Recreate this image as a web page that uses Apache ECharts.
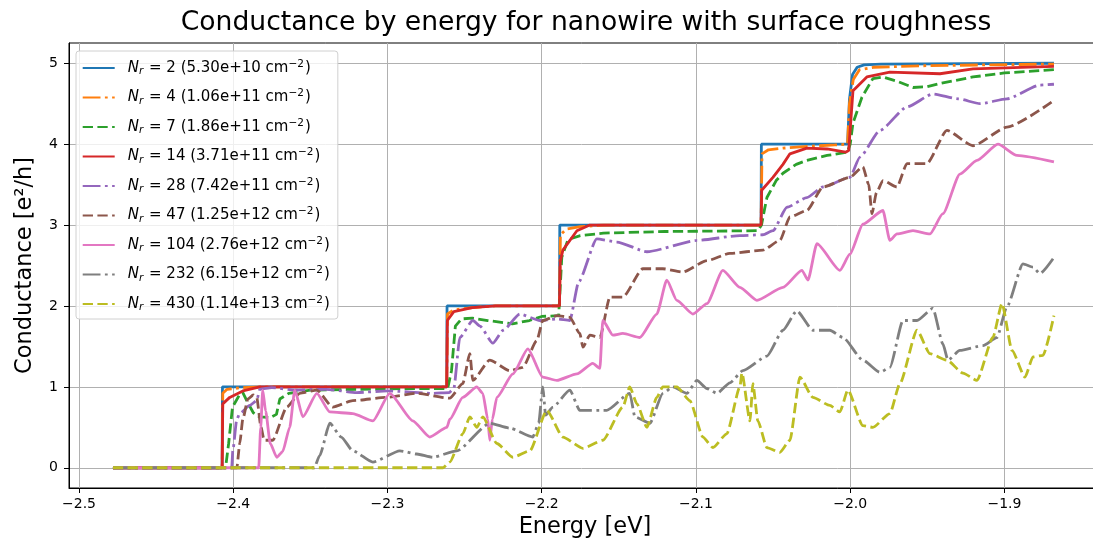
<!DOCTYPE html>
<html>
<head>
<meta charset="utf-8">
<title>Conductance by energy</title>
<script src="https://cdn.jsdelivr.net/npm/echarts@6/dist/echarts.min.js"></script>
<style>
html, body { margin: 0; padding: 0; background: #fff; }
#chart { width: 1093px; height: 541px; }
</style>
</head>
<body>
<div id="chart"></div>
<script>
const xTicks = [-2.5, -2.4, -2.3, -2.2, -2.1, -2.0, -1.9]
const yTicks = [0, 1, 2, 3, 4, 5]
const nrValues = [2, 4, 7, 14, 28, 47, 104, 232, 430]
const densities = ['5.30e+10', '1.06e+11', '1.86e+11', '3.71e+11', '7.42e+11', '1.25e+12', '2.76e+12', '6.15e+12', '1.14e+13']

// [energy (eV), conductance (e^2/h)]
const nr2 = [[-2.478, 0], [-2.4072, 0], [-2.407, 1], [-2.2616, 1], [-2.2614, 2], [-2.1885, 2], [-2.1883, 3], [-2.0578, 3], [-2.0576, 4], [-2.0017, 4], [-2.0005, 4.55], [-1.9985, 4.86], [-1.9955, 4.95], [-1.991, 4.98], [-1.98, 4.99], [-1.8679, 5]]
const nr4 = [[-2.478, 0], [-2.4072, 0], [-2.4068, 0.92], [-2.404, 0.97], [-2.395, 0.99], [-2.38, 1.0], [-2.2616, 1.0], [-2.2611, 1.9], [-2.257, 1.95], [-2.245, 1.98], [-2.23, 2.0], [-2.1885, 2.0], [-2.1879, 2.88], [-2.184, 2.95], [-2.175, 2.98], [-2.16, 3.0], [-2.0578, 3.0], [-2.0572, 3.88], [-2.053, 3.93], [-2.0436, 3.95], [-2.03, 3.97], [-2.01, 3.99], [-2.0017, 4.0], [-2.0005, 4.5], [-1.998, 4.8], [-1.994, 4.92], [-1.985, 4.95], [-1.95, 4.97], [-1.8679, 4.99]]
const nr7 = [[-2.478, 0], [-2.405, 0], [-2.403, 0.3], [-2.4005, 0.75], [-2.396, 0.9], [-2.3938, 0.93], [-2.3905, 0.8], [-2.387, 0.68], [-2.383, 0.63], [-2.376, 0.62], [-2.372, 0.66], [-2.3698, 0.85], [-2.364, 0.92], [-2.35, 0.96], [-2.32, 0.97], [-2.28, 0.98], [-2.261, 0.98], [-2.2585, 1.2], [-2.256, 1.75], [-2.252, 1.84], [-2.245, 1.85], [-2.235, 1.82], [-2.219, 1.78], [-2.208, 1.82], [-2.2, 1.87], [-2.189, 1.88], [-2.187, 2.6], [-2.183, 2.82], [-2.175, 2.87], [-2.16, 2.9], [-2.12, 2.92], [-2.06, 2.93], [-2.0575, 3.0], [-2.0555, 3.2], [-2.054, 3.34], [-2.048, 3.55], [-2.0436, 3.64], [-2.035, 3.75], [-2.0281, 3.8], [-2.015, 3.86], [-2.002, 3.9], [-2.0, 4.0], [-1.9982, 4.26], [-1.9924, 4.58], [-1.9853, 4.81], [-1.9788, 4.83], [-1.97, 4.78], [-1.9593, 4.7], [-1.95, 4.71], [-1.9418, 4.75], [-1.9204, 4.83], [-1.9, 4.88], [-1.8679, 4.92]]
const nr14 = [[-2.478, 0], [-2.4072, 0], [-2.4068, 0.79], [-2.4023, 0.87], [-2.3938, 0.95], [-2.3828, 1.0], [-2.2616, 1.0], [-2.2612, 1.82], [-2.257, 1.93], [-2.245, 1.98], [-2.23, 2.0], [-2.1885, 2.0], [-2.188, 2.55], [-2.1863, 2.69], [-2.1772, 2.93], [-2.1688, 3.0], [-2.0578, 3.0], [-2.0574, 3.43], [-2.0501, 3.59], [-2.0436, 3.75], [-2.0391, 3.88], [-2.0281, 3.95], [-2.015, 3.94], [-2.003, 3.9], [-2.001, 3.92], [-1.9982, 4.66], [-1.9892, 4.83], [-1.9743, 4.89], [-1.9418, 4.87], [-1.9204, 4.93], [-1.8679, 4.96]]
const nr28 = [[-2.478, 0], [-2.401, 0], [-2.4003, 0.21], [-2.3977, 0.6], [-2.3958, 0.67], [-2.3893, 0.77], [-2.3848, 0.83], [-2.3828, 0.97], [-2.375, 0.99], [-2.3601, 0.96], [-2.34, 0.97], [-2.32, 0.93], [-2.3, 0.95], [-2.2706, 0.92], [-2.26, 0.93], [-2.257, 0.98], [-2.2531, 1.61], [-2.2447, 1.82], [-2.24, 1.75], [-2.2317, 1.54], [-2.225, 1.7], [-2.2142, 1.9], [-2.2012, 1.82], [-2.19, 1.84], [-2.1818, 1.82], [-2.176, 2.3], [-2.1643, 2.83], [-2.1513, 2.79], [-2.1318, 2.67], [-2.0994, 2.81], [-2.0715, 2.87], [-2.0566, 2.88], [-2.0501, 2.93], [-2.041, 3.22], [-2.0281, 3.34], [-2.0177, 3.47], [-2.0002, 3.59], [-1.9937, 3.84], [-1.9807, 4.17], [-1.9632, 4.46], [-1.9464, 4.62], [-1.93, 4.56], [-1.9159, 4.5], [-1.8984, 4.56], [-1.877, 4.73], [-1.8679, 4.74]]
const nr47 = [[-2.478, 0], [-2.3977, 0], [-2.3958, 0.3], [-2.3938, 0.6], [-2.3905, 0.85], [-2.387, 0.9], [-2.3848, 0.87], [-2.382, 0.5], [-2.38, 0.34], [-2.3744, 0.34], [-2.3653, 0.75], [-2.3569, 0.92], [-2.3458, 0.96], [-2.3355, 0.75], [-2.3225, 0.83], [-2.3004, 0.87], [-2.281, 0.92], [-2.2596, 0.86], [-2.2512, 1.04], [-2.2466, 1.41], [-2.2447, 1.08], [-2.2337, 1.33], [-2.2207, 1.2], [-2.2123, 1.24], [-2.2032, 1.57], [-2.1993, 1.82], [-2.1902, 1.88], [-2.1818, 1.86], [-2.1753, 1.66], [-2.1733, 1.49], [-2.1688, 1.64], [-2.1623, 1.61], [-2.1558, 2.11], [-2.1474, 2.11], [-2.1344, 2.46], [-2.1215, 2.46], [-2.1085, 2.42], [-2.0929, 2.56], [-2.078, 2.65], [-2.0566, 2.69], [-2.0456, 2.81], [-2.0391, 3.1], [-2.0281, 3.18], [-2.0177, 3.47], [-2.0002, 3.59], [-1.9918, 3.72], [-1.988, 3.5], [-1.9859, 3.14], [-1.983, 3.4], [-1.9788, 3.55], [-1.9697, 3.47], [-1.9632, 3.76], [-1.9503, 3.76], [-1.9373, 4.17], [-1.9204, 3.98], [-1.8984, 4.21], [-1.8679, 4.54]]
const nr104 = [[-2.478, 0], [-2.3835, 0], [-2.3822, 0.5], [-2.3809, 0.96], [-2.379, 0.7], [-2.376, 0.3], [-2.3718, 0.13], [-2.368, 0.2], [-2.3634, 0.5], [-2.3601, 0.96], [-2.3549, 0.63], [-2.3458, 0.92], [-2.3374, 0.69], [-2.3225, 0.67], [-2.3095, 0.58], [-2.2985, 0.92], [-2.2836, 0.58], [-2.2726, 0.38], [-2.2615, 0.5], [-2.2596, 0.6], [-2.2512, 0.87], [-2.2421, 1.0], [-2.2382, 0.92], [-2.235, 0.6], [-2.2337, 0.34], [-2.232, 0.6], [-2.2291, 0.87], [-2.2187, 1.16], [-2.209, 1.47], [-2.1993, 1.12], [-2.1902, 1.08], [-2.1772, 1.16], [-2.1669, 1.29], [-2.1623, 1.23], [-2.1604, 1.82], [-2.1539, 1.64], [-2.1474, 1.66], [-2.1364, 1.61], [-2.1254, 1.9], [-2.1189, 2.32], [-2.1124, 2.07], [-2.102, 1.9], [-2.0929, 2.03], [-2.0826, 2.44], [-2.0715, 2.23], [-2.0605, 2.07], [-2.0436, 2.23], [-2.0313, 2.44], [-2.0274, 2.32], [-2.0216, 2.77], [-2.0067, 2.44], [-2.0002, 2.64], [-1.9918, 3.01], [-1.9788, 3.18], [-1.9743, 2.81], [-1.9697, 2.89], [-1.9593, 2.93], [-1.9483, 2.89], [-1.9399, 3.14], [-1.9289, 3.63], [-1.9178, 3.8], [-1.9042, 4.0], [-1.8919, 3.86], [-1.8679, 3.78]]
const nr232 = [[-2.478, 0], [-2.3475, 0], [-2.344, 0.15], [-2.3374, 0.55], [-2.33, 0.38], [-2.3225, 0.21], [-2.3095, 0.07], [-2.292, 0.21], [-2.281, 0.17], [-2.2706, 0.13], [-2.2551, 0.21], [-2.2337, 0.55], [-2.2207, 0.49], [-2.2058, 0.38], [-2.202, 0.55], [-2.1993, 1.0], [-2.1975, 0.65], [-2.1928, 0.75], [-2.1818, 0.96], [-2.1753, 0.71], [-2.1578, 0.71], [-2.1429, 0.92], [-2.1396, 0.63], [-2.1299, 0.55], [-2.1215, 0.92], [-2.115, 1.0], [-2.1059, 0.92], [-2.0994, 1.08], [-2.0929, 0.98], [-2.0864, 0.92], [-2.078, 1.05], [-2.0696, 1.2], [-2.054, 1.38], [-2.0436, 1.7], [-2.0346, 1.94], [-2.0242, 1.7], [-2.0132, 1.7], [-2.0047, 1.61], [-1.9918, 1.33], [-1.9807, 1.18], [-1.9743, 1.24], [-1.9658, 1.82], [-1.9567, 1.82], [-1.9464, 1.97], [-1.9399, 1.53], [-1.9366, 1.33], [-1.9289, 1.45], [-1.9139, 1.51], [-1.9049, 1.61], [-1.8984, 1.99], [-1.888, 2.52], [-1.8815, 2.48], [-1.877, 2.4], [-1.8679, 2.6]]
const nr430 = [[-2.478, 0], [-2.264, 0], [-2.2596, 0.07], [-2.2512, 0.42], [-2.2466, 0.63], [-2.2421, 0.5], [-2.2382, 0.63], [-2.2291, 0.3], [-2.2187, 0.13], [-2.2077, 0.21], [-2.1967, 0.71], [-2.1863, 0.38], [-2.1733, 0.24], [-2.1604, 0.34], [-2.1474, 0.75], [-2.1429, 1.0], [-2.1383, 0.79], [-2.1318, 0.5], [-2.1254, 0.87], [-2.1215, 1.0], [-2.1124, 1.0], [-2.104, 0.83], [-2.0955, 0.38], [-2.089, 0.25], [-2.08, 0.42], [-2.0715, 1.0], [-2.0702, 1.17], [-2.065, 0.58], [-2.0631, 1.04], [-2.0599, 0.58], [-2.054, 0.25], [-2.0456, 0.19], [-2.0391, 0.34], [-2.0326, 1.12], [-2.0242, 0.87], [-2.0132, 0.77], [-2.0067, 0.69], [-2.0015, 0.96], [-1.9918, 0.52], [-1.9853, 0.5], [-1.9743, 0.67], [-1.9678, 1.04], [-1.9567, 1.7], [-1.9483, 1.41], [-1.9373, 1.33], [-1.9269, 1.17], [-1.9178, 1.08], [-1.9075, 1.61], [-1.9016, 2.03], [-1.8951, 1.45], [-1.8867, 1.12], [-1.8815, 1.37], [-1.875, 1.39], [-1.8679, 1.88]]

const seriesData = [nr2, nr4, nr7, nr14, nr28, nr47, nr104, nr232, nr430]
const colors = ['#1f77b4', '#ff7f0e', '#2ca02c', '#d62728', '#9467bd', '#8c564b', '#e377c2', '#7f7f7f', '#bcbd22']
const dashes = ['solid', [17.8, 4.4, 2.8, 4.4], [10.3, 4.4]]
const font = 'DejaVu Sans'

const names = nrValues.map(n => 'Nr = ' + n)

let chart = echarts.init(document.getElementById('chart'), null, { renderer: 'canvas' })
chart.setOption({
    animation: false,
    backgroundColor: '#fff',
    title: {
        text: 'Conductance by energy for nanowire with surface roughness',
        left: 581,
        top: 5,
        textAlign: 'center',
        textStyle: { fontFamily: font, fontSize: 26.6, fontWeight: 'normal', color: '#000' },
    },
    legend: {
        data: names,
        orient: 'vertical',
        left: 76,
        top: 51,
        itemWidth: 32,
        itemHeight: 16,
        itemGap: 11,
        padding: [7.5, 8, 6, 5.7],
        backgroundColor: 'rgba(255,255,255,0.8)',
        borderColor: '#d0d0d0',
        borderWidth: 1,
        borderRadius: 3,
        selectedMode: false,
        // hide the marker glyph, keep only the line sample
        itemStyle: { opacity: 0 },
        formatter: name => {
            let i = names.indexOf(name)
            return '{n|N}{r|r}{t| = ' + nrValues[i] + ' (' + densities[i] + ' cm}{s|\u22122}{t|)}'
        },
        textStyle: {
            fontFamily: font,
            fontSize: 15,
            color: '#000',
            rich: {
                n: { fontFamily: font, fontSize: 15, fontStyle: 'italic', color: '#000', padding: [0, 0, 0, 8] },
                r: { fontFamily: font, fontSize: 10.5, fontStyle: 'italic', color: '#000', padding: [7, 1, 0, 0] },
                t: { fontFamily: font, fontSize: 15, color: '#000' },
                s: { fontFamily: font, fontSize: 10.5, color: '#000', padding: [0, 1, 8, 0] },
            },
        },
    },
    grid: {
        left: 69,
        right: -8,
        top: 43,
        bottom: 53,
        show: true,
        borderColor: '#000',
        borderWidth: 1,
        outerBoundsMode: 'none',
    },
    xAxis: {
        type: 'value',
        min: -2.5065,
        max: -1.8374,
        name: 'Energy [eV]',
        nameLocation: 'middle',
        nameGap: 22,
        nameTextStyle: { fontFamily: font, fontSize: 22.5, color: '#000' },
        axisLine: { show: true, onZero: false, lineStyle: { color: '#000', width: 1 } },
        axisTick: { show: true, length: 5, customValues: xTicks, lineStyle: { color: '#000' } },
        axisLabel: {
            customValues: xTicks,
            margin: 9,
            fontFamily: font,
            fontSize: 14,
            color: '#000',
            formatter: v => (v < 0 ? '\u2212' : '') + Math.abs(v).toFixed(1),
        },
        splitLine: { show: true, lineStyle: { color: '#b0b0b0', width: 1 } },
    },
    yAxis: {
        type: 'value',
        min: -0.25,
        max: 5.25,
        name: 'Conductance [e\u00b2/h]',
        nameLocation: 'middle',
        nameGap: 32,
        nameTextStyle: { fontFamily: font, fontSize: 22.5, color: '#000' },
        axisLine: { show: true, onZero: false, lineStyle: { color: '#000', width: 1 } },
        axisTick: { show: true, length: 5, customValues: yTicks, lineStyle: { color: '#000' } },
        axisLabel: {
            customValues: yTicks,
            margin: 11,
            fontFamily: font,
            fontSize: 14,
            color: '#000',
        },
        splitLine: { show: true, lineStyle: { color: '#b0b0b0', width: 1 } },
    },
    series: seriesData.map((d, i) => ({
        name: names[i],
        type: 'line',
        data: d,
        symbol: 'none',
        smooth: i >= 4 ? 0.2 : false,
        smoothMonotone: 'x',
        color: colors[i],
        lineStyle: { color: colors[i], width: 2.8, type: dashes[i % 3], cap: 'butt' },
    })),
})
</script>
</body>
</html>
